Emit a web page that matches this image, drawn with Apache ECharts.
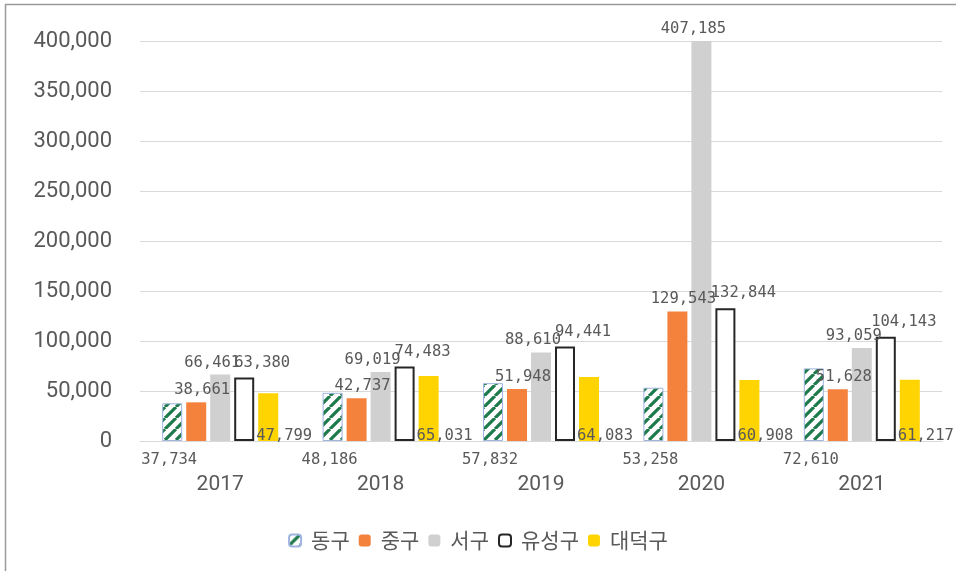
<!DOCTYPE html>
<html>
<head>
<meta charset="utf-8">
<script src="https://cdn.jsdelivr.net/npm/echarts@6/dist/echarts.min.js"></script>
<style>
html,body{margin:0;padding:0;background:#fff;}
#chart{width:956px;height:571px;}
</style>
</head>
<body>
<div id="chart"></div>
<script>
const categories = ['2017', '2018', '2019', '2020', '2021'];
const seriesNames = ['동구', '중구', '서구', '유성구', '대덕구'];
const donggu = [37734, 48186, 57832, 53258, 72610];
const junggu = [38661, 42737, 51948, 129543, 51628];
const seogu = [66461, 69019, 88610, 407185, 93059];
const yuseonggu = [63380, 74483, 94441, 132844, 104143];
const daedeokgu = [47799, 65031, 64083, 60908, 61217];
const yTicks = [0, 50000, 100000, 150000, 200000, 250000, 300000, 350000, 400000];

function hatch() {
  const s = 11;
  const c = document.createElement('canvas');
  c.width = s; c.height = s;
  const g = c.getContext('2d');
  g.fillStyle = '#ffffff';
  g.fillRect(0, 0, s, s);
  g.strokeStyle = '#1d7a4b';
  g.lineWidth = 3.2;
  g.beginPath();
  for (let k = -s; k <= 2 * s; k += s) {
    g.moveTo(k, s); g.lineTo(k + s, 0);
  }
  g.stroke();
  return c;
}

const fmt = v => v.toLocaleString('en-US');
const labelFont = { fontFamily: 'DejaVu Sans Mono', fontSize: 15.5, color: '#595959' };

const chart = echarts.init(document.getElementById('chart'));
chart.setOption({
  animation: false,
  backgroundColor: '#ffffff',
  graphic: [
    { type: 'line', shape: { x1: 5, y1: 4.5, x2: 956, y2: 4.5 }, style: { stroke: '#9a9a9a', lineWidth: 1.5 } },
    { type: 'line', shape: { x1: 5.5, y1: 4, x2: 5.5, y2: 571 }, style: { stroke: '#9a9a9a', lineWidth: 1.5 } }
  ],
  grid: { left: 140, right: 14, top: 41, bottom: 130 },
  legend: {
    bottom: 15,
    left: 'center',
    itemWidth: 12,
    itemHeight: 12,
    itemGap: 9,
    data: seriesNames,
    textStyle: { fontFamily: 'Noto Sans CJK KR', fontSize: 21, color: '#595959', padding: [0, 0, 0, 5] }
  },
  xAxis: {
    type: 'category',
    data: categories,
    axisLine: { show: true, lineStyle: { color: '#d9d9d9' } },
    axisTick: { show: false },
    axisLabel: { margin: 33, fontFamily: 'Roboto', fontSize: 21, color: '#595959' }
  },
  yAxis: {
    type: 'value',
    min: 0,
    max: 400000,
    interval: 50000,
    axisLine: { show: false },
    axisTick: { show: false },
    splitLine: { lineStyle: { color: '#d9d9d9', width: 1 } },
    axisLabel: {
      margin: 28,
      fontFamily: 'Roboto',
      fontSize: 22,
      color: '#595959',
      formatter: v => yTicks.includes(v) ? fmt(v) : ''
    }
  },
  series: [
    {
      name: seriesNames[0], type: 'bar', data: donggu, barWidth: 20, barGap: '20%',
      itemStyle: { color: { image: hatch(), repeat: 'repeat' }, borderColor: '#9fb4de', borderWidth: 1 },
      label: { show: true, position: 'bottom', distance: 11, offset: [-3, 0], formatter: p => fmt(p.value), ...labelFont }
    },
    {
      name: seriesNames[1], type: 'bar', data: junggu, barWidth: 20, barGap: '20%',
      itemStyle: { color: '#f4823c' },
      label: { show: true, position: 'top', distance: 4, offset: [6, 0], formatter: p => fmt(p.value), ...labelFont }
    },
    {
      name: seriesNames[2], type: 'bar', data: seogu, barWidth: 20, barGap: '20%',
      itemStyle: { color: '#d0d0d0' },
      label: { show: true, position: 'top', distance: 4, offset: [-8, 0], formatter: p => fmt(p.value), ...labelFont }
    },
    {
      name: seriesNames[3], type: 'bar', data: yuseonggu, barWidth: 20, barGap: '20%',
      itemStyle: { color: '#ffffff', borderColor: '#262626', borderWidth: 2 },
      label: { show: true, position: 'top', distance: 7, offset: [18, 0], formatter: p => fmt(p.value), ...labelFont }
    },
    {
      name: seriesNames[4], type: 'bar', data: daedeokgu, barWidth: 20, barGap: '20%',
      itemStyle: { color: '#ffd400' },
      label: { show: true, position: 'insideBottom', distance: 0, offset: [16, 3], formatter: p => fmt(p.value), ...labelFont }
    }
  ]
});
</script>
</body>
</html>
